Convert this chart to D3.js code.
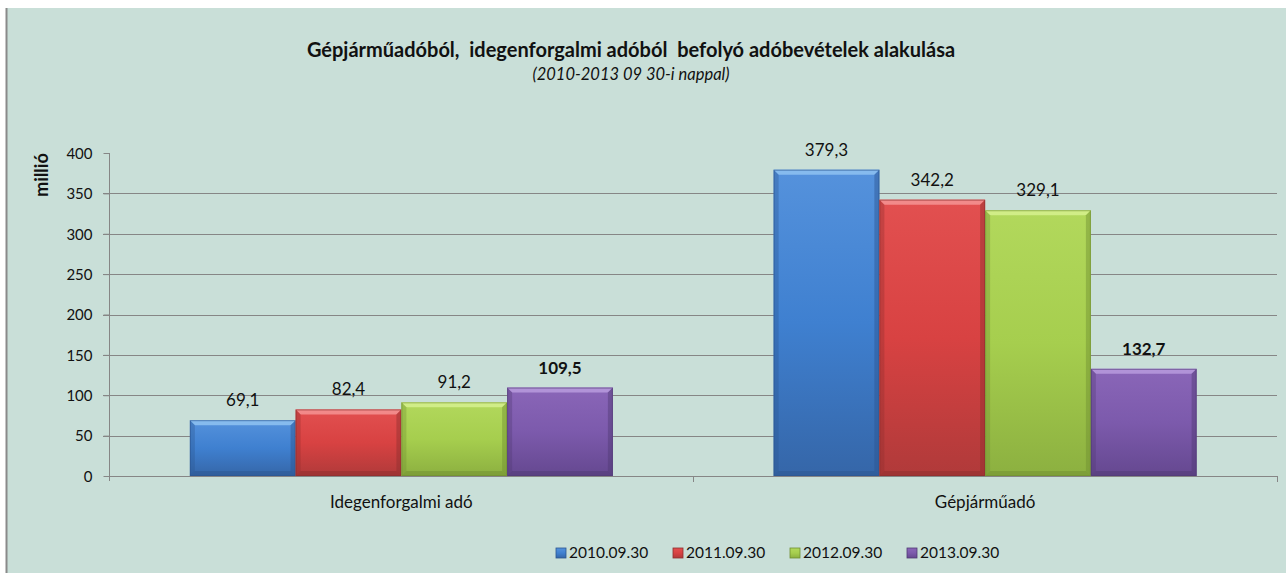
<!DOCTYPE html>
<html>
<head>
<meta charset="utf-8">
<script src="https://cdn.jsdelivr.net/npm/d3@7"></script>
<style>
  body { margin: 0; background: #fff; }
  svg { display: block; }
  text { font-family: Lato, "Open Sans", sans-serif; fill: #111; }
</style>
</head>
<body>
<div id="chart"></div>
<script>
const categories = ["Idegenforgalmi adó", "Gépjárműadó"];
const series = ["2010.09.30", "2011.09.30", "2012.09.30", "2013.09.30"];
const values2010 = [69.1, 379.3];
const values2011 = [82.4, 342.2];
const values2012 = [91.2, 329.1];
const values2013 = [109.5, 132.7];
const yTicks = [0, 50, 100, 150, 200, 250, 300, 350, 400];

const allValues = [values2010, values2011, values2012, values2013];
const colors = [
  { top: "#5592dc", mid: "#3f80d0", bot: "#3566a8", dark: "#2c5590", light: "#8cc0f0" },
  { top: "#e25050", mid: "#d84242", bot: "#b03a3a", dark: "#8e2e2e", light: "#f49090" },
  { top: "#b2d85c", mid: "#a6ce4e", bot: "#8cb040", dark: "#6f8e30", light: "#d4f08c" },
  { top: "#8a66b8", mid: "#7c5aac", bot: "#654890", dark: "#503a74", light: "#b698dc" }
];

const width = 1286, height = 573;
const svg = d3.select("#chart").append("svg").attr("width", width).attr("height", height);

// chart background
svg.append("rect").attr("x", 6).attr("y", 8).attr("width", width - 6).attr("height", height - 8)
  .attr("fill", "#c9dfd8");
svg.append("line").attr("x1", 6.5).attr("x2", 6.5).attr("y1", 8).attr("y2", height)
  .attr("stroke", "#8a8a8a").attr("stroke-width", 2);

const defs = svg.append("defs");
colors.forEach((c, i) => {
  const g = defs.append("linearGradient").attr("id", "grad" + i)
    .attr("x1", 0).attr("x2", 0).attr("y1", 0).attr("y2", 1);
  g.append("stop").attr("offset", "0%").attr("stop-color", c.top);
  g.append("stop").attr("offset", "50%").attr("stop-color", c.mid);
  g.append("stop").attr("offset", "100%").attr("stop-color", c.bot);
});

const x = d3.scaleBand().domain(categories).range([109.5, 1277]).padding(0);
const xs = d3.scaleBand().domain(series).range([0, x.bandwidth()]).paddingInner(0).paddingOuter(0.76);
const y = d3.scaleLinear().domain([0, 400]).range([476, 153]);

// gridlines
svg.append("g").selectAll("line").data(yTicks.filter(t => t > 0 && t < 400)).join("line")
  .attr("x1", 103).attr("x2", 1277)
  .attr("y1", d => Math.round(y(d)) + 0.5).attr("y2", d => Math.round(y(d)) + 0.5)
  .attr("stroke", "#868686").attr("stroke-width", 1);

// y axis
const yAxis = svg.append("g").attr("transform", "translate(109.5,0)")
  .call(d3.axisLeft(y).tickValues(yTicks).tickSize(6).tickPadding(11));
yAxis.select(".domain").attr("stroke", "#868686").attr("d", `M0,${y(400)}V481`);
yAxis.selectAll(".tick line").attr("stroke", "#868686");
yAxis.selectAll(".tick text").attr("font-size", 15).attr("font-family", "Lato, sans-serif")
  .attr("fill", "#222").attr("dy", "0.35em");

// x axis
const xAxis = svg.append("g").attr("transform", `translate(0,${y(0) + 0.5})`)
  .call(d3.axisBottom(x).tickSize(0).tickPadding(19));
xAxis.select(".domain").attr("stroke", "#868686").attr("d", "M109.5,0H1277");
xAxis.selectAll(".tick text").attr("font-size", 17).attr("font-family", "Lato, sans-serif").attr("fill", "#222");
// boundary ticks between categories
svg.append("g").selectAll("line").data(categories).join("line")
  .attr("x1", d => Math.round(x(d) + x.bandwidth()) + 0.5)
  .attr("x2", d => Math.round(x(d) + x.bandwidth()) + 0.5)
  .attr("y1", y(0)).attr("y2", y(0) + 6)
  .attr("stroke", "#868686");

// bars
const bev = 5;
series.forEach((s, i) => {
  const c = colors[i];
  const g = svg.append("g");
  const bars = g.selectAll("g").data(categories.map((cat, j) => ({ cat, v: allValues[i][j] }))).join("g");
  bars.each(function (d) {
    const el = d3.select(this);
    const x0 = x(d.cat) + xs(s), x1 = x0 + xs.bandwidth();
    const y0 = y(d.v), y1 = y(0);
    el.append("rect").attr("x", x0).attr("y", y0).attr("width", x1 - x0).attr("height", y1 - y0)
      .attr("fill", `url(#grad${i})`);
    // top bevel
    el.append("path").attr("d", `M${x0},${y0}H${x1}L${x1 - bev},${y0 + bev}H${x0 + bev}Z`)
      .attr("fill", c.light).attr("opacity", 0.9);
    // side bevels
    el.append("path").attr("d", `M${x0},${y0}L${x0 + bev},${y0 + bev}V${y1 - bev}L${x0},${y1}Z`)
      .attr("fill", c.dark).attr("opacity", 0.35);
    el.append("path").attr("d", `M${x1},${y0}L${x1 - bev},${y0 + bev}V${y1 - bev}L${x1},${y1}Z`)
      .attr("fill", c.dark).attr("opacity", 0.45);
    el.append("path").attr("d", `M${x0},${y1}L${x0 + bev},${y1 - bev}H${x1 - bev}L${x1},${y1}Z`)
      .attr("fill", c.dark).attr("opacity", 0.5);
    el.append("rect").attr("x", x0 + 0.5).attr("y", y0 + 0.5).attr("width", x1 - x0 - 1).attr("height", y1 - y0 - 1)
      .attr("fill", "none").attr("stroke", c.dark).attr("stroke-opacity", 0.6);
    el.append("text").attr("x", (x0 + x1) / 2).attr("y", y0 - 14)
      .attr("text-anchor", "middle").attr("font-size", 17)
      .attr("font-weight", i === 3 ? "bold" : "normal")
      .text(d3.format(".1f")(d.v).replace(".", ","));
  });
});

// titles
svg.append("text").attr("x", 631).attr("y", 57).attr("text-anchor", "middle")
  .attr("font-size", 20).attr("font-weight", "bold")
  .text("Gépjárműadóból,  idegenforgalmi adóból  befolyó adóbevételek alakulása")
  .style("white-space", "pre");
svg.append("text").attr("x", 631).attr("y", 80).attr("text-anchor", "middle")
  .attr("font-size", 16.5).attr("font-style", "italic")
  .text("(2010-2013 09 30-i nappal)");

svg.append("text").attr("transform", "translate(48,175) rotate(-90)")
  .attr("text-anchor", "middle").attr("font-size", 18).attr("font-weight", "bold").text("millió");

// legend
const leg = svg.append("g").selectAll("g").data(series).join("g")
  .attr("transform", (d, i) => `translate(556,548)`.replace("556", 556 + i * 117));
leg.append("rect").attr("width", 10).attr("height", 10)
  .attr("fill", (d, i) => `url(#grad${i})`).attr("stroke", (d, i) => colors[i].dark).attr("stroke-width", 0.8);
leg.append("text").attr("x", 13).attr("y", 5).attr("dy", "0.35em").attr("font-size", 15.5).text(d => d);
</script>
</body>
</html>
